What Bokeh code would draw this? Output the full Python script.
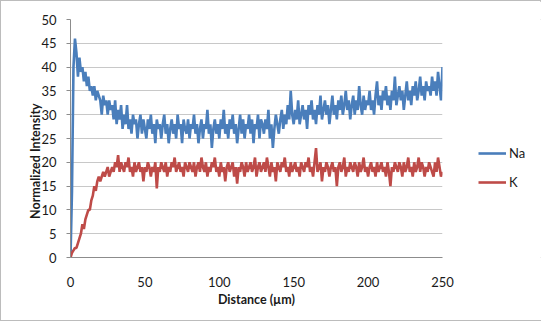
from bokeh.plotting import figure
from bokeh.models import Range1d, Legend, LegendItem, FixedTicker
from bokeh.layouts import row
from bokeh.embed import file_html
from bokeh.resources import INLINE

# Line-scan profile, one sample per micrometre
distance_um = list(range(0, 251))

na_intensity = [
    0, 14, 40, 46, 43, 38, 42, 39, 40, 37, 39,
    36, 38, 35, 36, 34, 36, 33, 35, 34, 33,
    30, 34, 32, 33, 30, 33, 31, 32, 29, 33,
    28, 31, 29, 32, 27, 30, 28, 32, 27, 29,
    26, 30, 28, 29, 25, 28, 30, 26, 29, 27,
    25, 29, 27, 30, 26, 28, 24, 29, 27, 28,
    25, 28, 30, 26, 28, 24, 27, 29, 26, 28,
    25, 30, 27, 28, 24, 29, 27, 26, 29, 25,
    28, 27, 30, 26, 28, 24, 27, 29, 25, 28,
    27, 31, 26, 28, 23, 27, 29, 26, 28, 25,
    29, 27, 31, 26, 28, 25, 29, 27, 30, 26,
    28, 24, 27, 30, 26, 29, 25, 28, 27, 30,
    26, 29, 24, 28, 27, 30, 25, 29, 28, 26,
    29, 27, 31, 25, 28, 23, 27, 30, 28, 26,
    29, 31, 27, 30, 28, 32, 29, 35, 30, 28,
    31, 29, 33, 28, 30, 32, 29, 31, 27, 32,
    30, 33, 29, 31, 28, 32, 30, 34, 29, 31,
    33, 30, 32, 28, 31, 34, 30, 32, 29, 33,
    31, 34, 30, 32, 35, 31, 33, 29, 32, 34,
    30, 33, 31, 36, 32, 30, 34, 31, 33, 32,
    35, 31, 33, 30, 34, 37, 32, 34, 31, 35,
    33, 36, 32, 34, 31, 35, 33, 38, 32, 34,
    36, 33, 35, 31, 34, 37, 33, 35, 32, 36,
    34, 37, 33, 35, 38, 34, 36, 33, 37, 35,
    36, 34, 38, 35, 37, 34, 39, 36, 33, 40,
]

k_intensity = [
    0, 1, 1.5, 2, 2, 3, 4, 5, 7, 6, 8,
    9, 10, 10, 12, 13, 15, 14, 16, 17, 16,
    17, 18, 17, 18, 19, 17, 18, 19, 18, 20,
    19, 21.5, 18, 20, 19, 18, 20, 19, 21, 18,
    19, 17, 20, 18, 19, 20, 18, 19, 16, 19,
    18, 20, 19, 17, 19, 18, 20, 14.5, 19, 18,
    20, 19, 18, 20, 17, 19, 18, 20, 19, 21,
    18, 19, 20, 18, 19, 17, 20, 19, 18, 20,
    19, 18, 20, 17, 19, 20, 18, 21, 19, 18,
    20, 17, 19, 18, 20, 19, 21, 18, 19, 17,
    20, 18, 19, 16, 19, 20, 18, 19, 20, 17,
    19, 15.5, 19, 18, 20, 19, 17, 20, 18, 19,
    20, 18, 19, 21, 17, 19, 20, 18, 19, 20,
    18, 21, 19, 17, 20, 18, 19, 16, 20, 19,
    18, 20, 19, 21, 18, 19, 17, 20, 18, 19,
    20, 18, 19, 17, 20, 19, 18, 20, 19, 21,
    18, 19, 17, 20, 23, 18, 19, 20, 16, 19,
    18, 20, 19, 17, 19, 20, 18, 19, 15, 19,
    20, 18, 19, 21, 17, 19, 18, 20, 19, 18,
    20, 19, 17, 20, 18, 19, 21, 18, 19, 17,
    19, 20, 18, 19, 17, 20, 18, 19, 20, 18,
    19, 17, 20, 18, 15, 19, 18, 20, 19, 18,
    20, 19, 17, 20, 18, 19, 21, 18, 19, 17,
    20, 18, 19, 21, 18, 20, 19, 17, 19, 18,
    20, 19, 18, 17, 20, 18, 21, 19, 17, 18,
]

x_ticks = [0, 50, 100, 150, 200, 250]
y_ticks = [0, 5, 10, 15, 20, 25, 30, 35, 40, 45, 50]
series_names = ["Na", "K"]

FONT = "Lato"
AXIS_GRAY = "#8c8c8c"
GRID_GRAY = "#c8c8c8"
NA_BLUE = "#4a7ebb"
K_RED = "#be4b48"
TEXT = "#1a1a1a"
LINE_W = 2.6

# main plot: 465 wide, plus a 76 wide legend strip, inside a 1px border
p = figure(
    width=465, height=321,
    output_backend="svg", toolbar_location=None,
    x_range=Range1d(0, 250), y_range=Range1d(0, 50),
    min_border_left=69, min_border_right=24,
    min_border_top=18, min_border_bottom=63,
)
p.outline_line_color = None
p.background_fill_color = "white"
p.border_fill_color = "white"

p.line(distance_um, na_intensity, line_color=NA_BLUE, line_width=LINE_W)
p.line(distance_um, k_intensity, line_color=K_RED, line_width=LINE_W)

p.xaxis.ticker = FixedTicker(ticks=x_ticks)
p.yaxis.ticker = FixedTicker(ticks=y_ticks)
for ax in (p.xaxis[0], p.yaxis[0]):
    ax.axis_line_color = AXIS_GRAY
    ax.major_tick_line_color = AXIS_GRAY
    ax.minor_tick_line_color = None
    ax.major_label_text_font = FONT
    ax.major_label_text_font_size = "13px"
    ax.major_label_text_color = TEXT
    ax.axis_label_text_font = FONT
    ax.axis_label_text_font_size = "12.5px"
    ax.axis_label_text_font_style = "bold"
    ax.axis_label_text_color = TEXT

p.xaxis.major_tick_in = 0
p.xaxis.major_tick_out = 0
p.xaxis.major_label_standoff = 19
p.xaxis.axis_label = "Distance (µm)"
p.xaxis.axis_label_standoff = 2

p.yaxis.major_tick_in = 0
p.yaxis.major_tick_out = 4
p.yaxis.major_label_standoff = 10
# trailing no-break spaces push the rotated title a little below the frame centre
p.yaxis.axis_label = "Normalized Intensity" + "\u00a0" * 15
p.yaxis.axis_label_standoff = -5

p.xgrid.grid_line_color = None
p.ygrid.grid_line_color = GRID_GRAY
p.ygrid.grid_line_width = 1

# legend strip to the right of the plot; its series sit outside its ranges,
# so only the legend keys show
lg = figure(
    width=76, height=321,
    output_backend="svg", toolbar_location=None,
    x_range=Range1d(-2, -1), y_range=Range1d(-2, -1),
    min_border=0,
)
lg.axis.visible = False
lg.grid.visible = False
lg.outline_line_color = None
lg.background_fill_color = "white"
lg.border_fill_color = "white"
na_key = lg.line(distance_um, na_intensity, line_color=NA_BLUE, line_width=LINE_W)
k_key = lg.line(distance_um, k_intensity, line_color=K_RED, line_width=LINE_W)

legend = Legend(
    items=[LegendItem(label=series_names[0], renderers=[na_key]),
           LegendItem(label=series_names[1], renderers=[k_key])],
    location=(12, 67),
    orientation="vertical",
    glyph_width=28, glyph_height=14, label_height=14,
    label_standoff=3, spacing=13, padding=0, margin=0,
    label_text_font=FONT, label_text_font_size="13px",
    label_text_color=TEXT,
    border_line_alpha=0, background_fill_alpha=0,
)
lg.add_layout(legend, "center")

chart = row(p, lg, spacing=0)
chart.styles = {"border": "1px solid #bcbcbc", "width": "541px", "height": "321px"}

open("out.html", "w").write(file_html(chart, INLINE))
